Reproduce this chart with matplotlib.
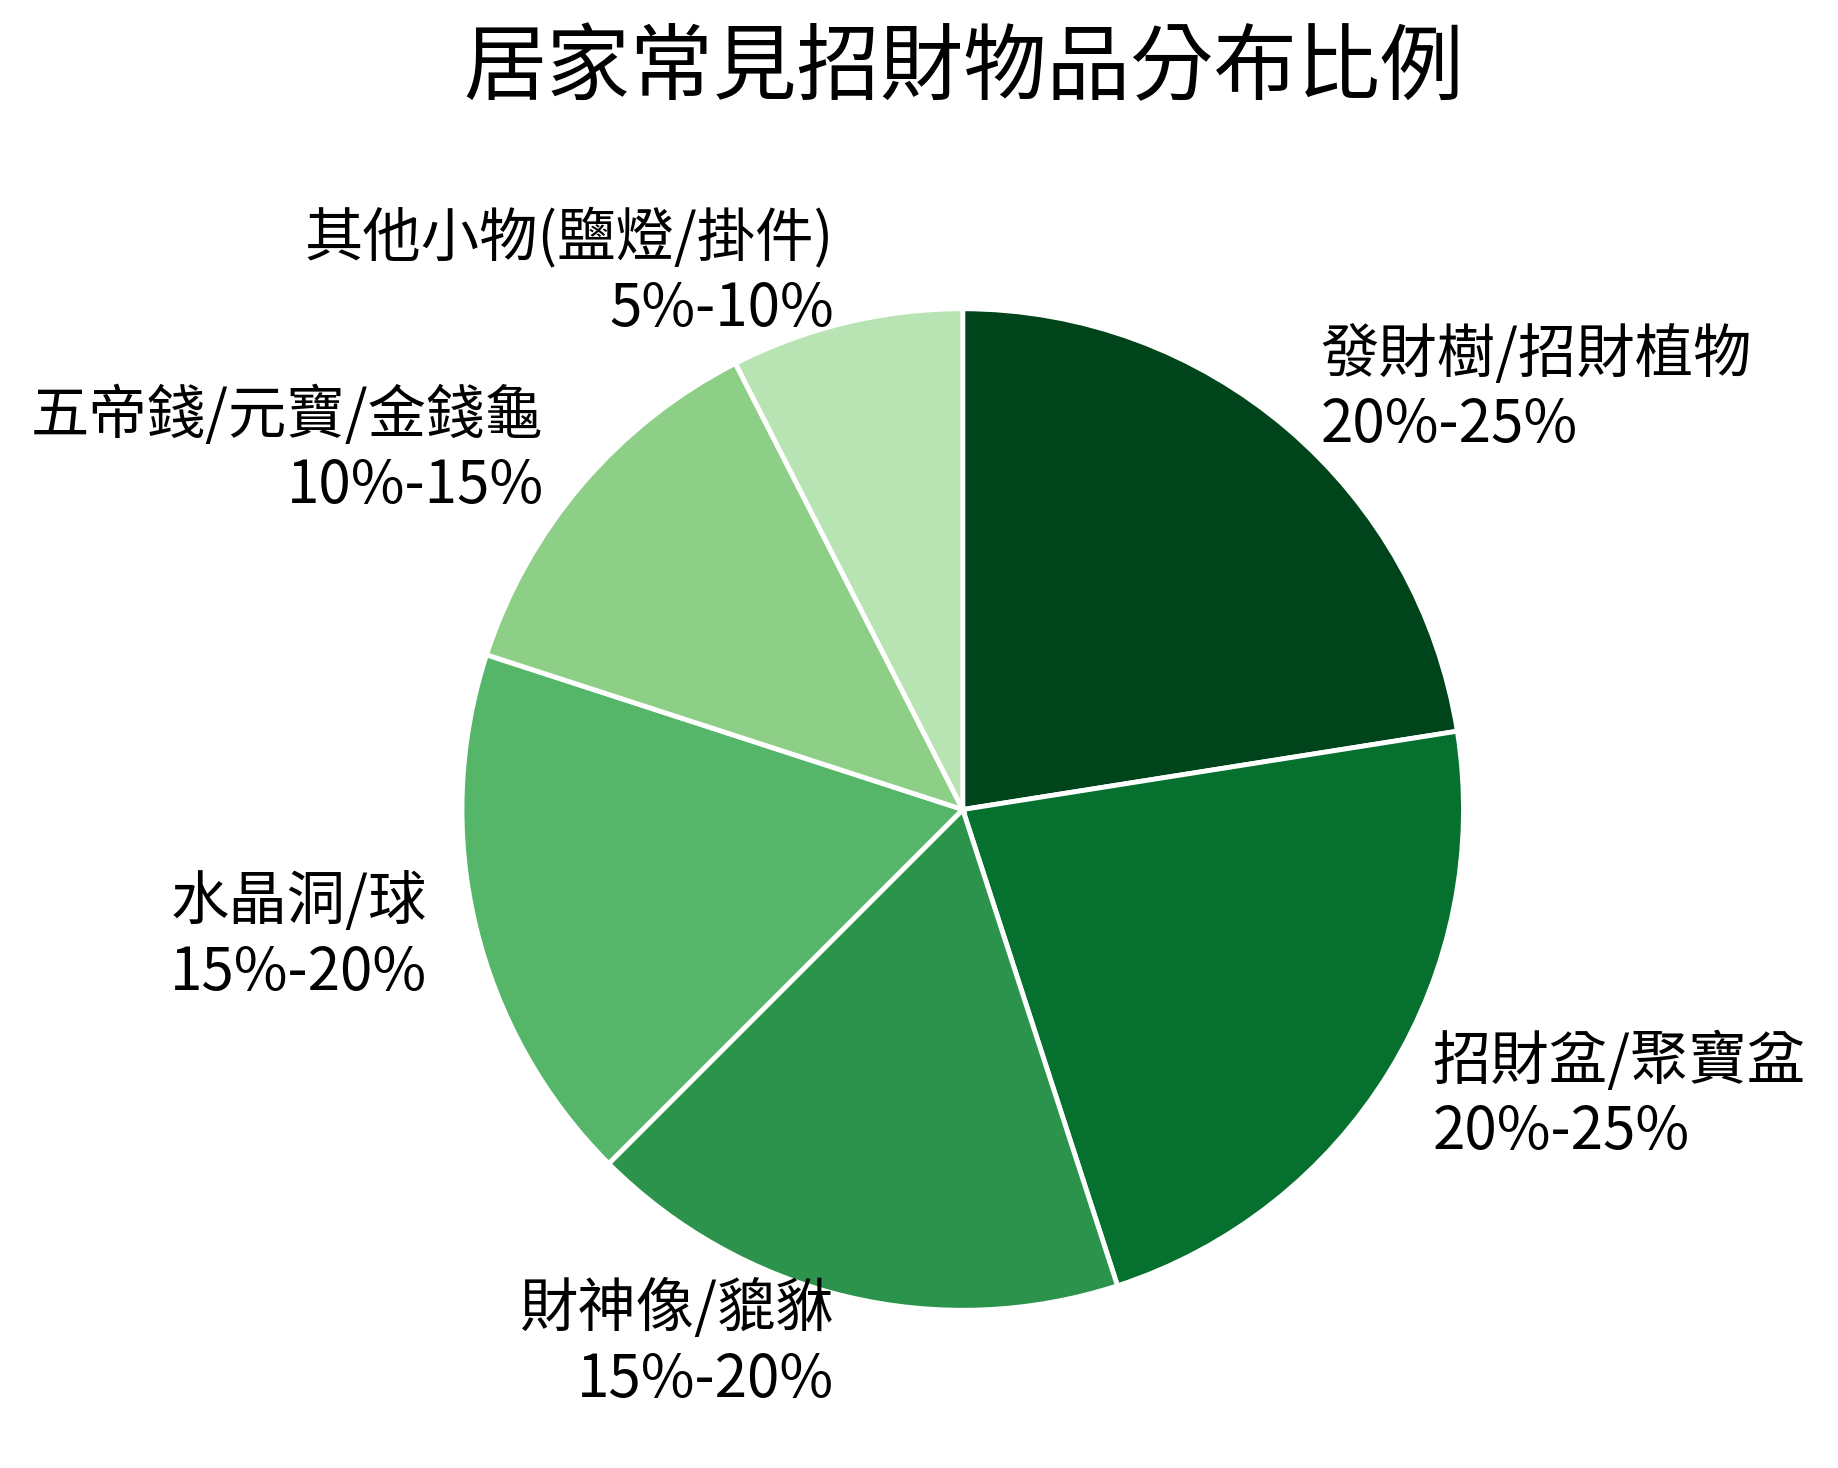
import matplotlib
matplotlib.use("Agg")
import matplotlib.pyplot as plt

plt.rcParams['font.family'] = ['Noto Sans CJK TC', 'DejaVu Sans']

# categories and estimated shares (midpoints of the ranges)
categories = ["發財樹/招財植物", "招財盆/聚寶盆", "財神像/貔貅",
              "水晶洞/球", "五帝錢/元寶/金錢龜", "其他小物(鹽燈/掛件)"]
ranges = ["20%-25%", "20%-25%", "15%-20%", "15%-20%", "10%-15%", "5%-10%"]
shares = [22.5, 22.5, 17.5, 17.5, 12.5, 7.5]
colors = ["#00441b", "#06702f", "#2b934b", "#55b568", "#8ecf88", "#b8e3b2"]

labels = [c + "\n" + r for c, r in zip(categories, ranges)]

fig = plt.figure(figsize=(18.38, 14.68), dpi=100)
ax = fig.add_axes([0.1696, 0.0051, 0.7084, 0.8869])

ax.pie(shares, labels=labels, colors=colors, startangle=90, counterclock=False,
       labeldistance=1.1,
       wedgeprops=dict(edgecolor="white", linewidth=3.5),
       textprops=dict(fontsize=42, color="black"))
ax.set_xlim(-1.3, 1.3)
ax.set_ylim(-1.3, 1.3)

fig.text(0.524, 0.953, "居家常見招財物品分布比例", ha="center", va="center",
         fontsize=60)

fig.savefig("out.png", dpi=100, facecolor="white")
